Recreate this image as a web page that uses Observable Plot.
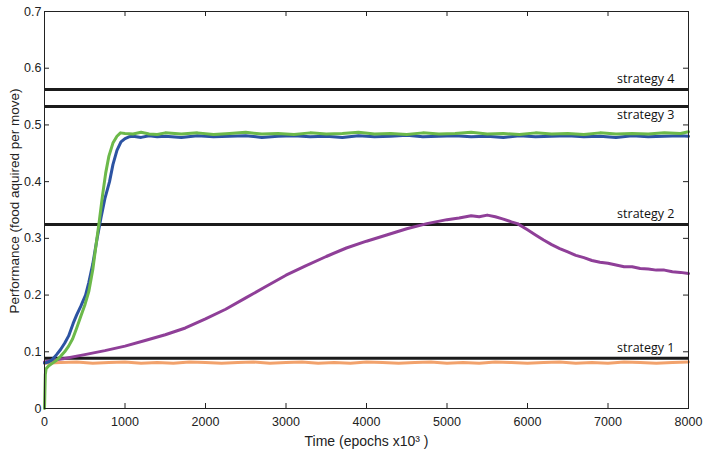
<!DOCTYPE html>
<html>
<head>
<meta charset="utf-8">
<script src="https://cdn.jsdelivr.net/npm/d3@7"></script>
<script src="https://cdn.jsdelivr.net/npm/@observablehq/plot@0.6"></script>
<style>
  html, body { margin: 0; padding: 0; background: #fff; }
  #chart { width: 708px; height: 452px; }
</style>
</head>
<body>
<div id="chart"></div>
<script>
// ---- data ----
const greenT = [0, 5, 10, 20, 50, 100, 150, 200, 250, 300, 350, 400, 450, 500, 550, 600, 640, 680, 720, 760, 800, 850, 900, 944, 1000, 1100, 1200, 1300, 1400, 1500, 1700, 1900, 2100, 2300, 2500, 2700, 2900, 3100, 3300, 3500, 3700, 3900, 4100, 4300, 4500, 4700, 4900, 5100, 5300, 5500, 5700, 5900, 6100, 6300, 6500, 6700, 6900, 7100, 7300, 7500, 7700, 7900, 8000];
const greenV = [0, 0.03, 0.06, 0.07, 0.075, 0.08, 0.085, 0.092, 0.1, 0.11, 0.123, 0.142, 0.162, 0.182, 0.206, 0.245, 0.288, 0.33, 0.375, 0.415, 0.445, 0.468, 0.48, 0.486, 0.485, 0.484, 0.487, 0.484, 0.483, 0.486, 0.484, 0.486, 0.483, 0.485, 0.487, 0.484, 0.485, 0.483, 0.486, 0.484, 0.485, 0.487, 0.484, 0.485, 0.483, 0.486, 0.484, 0.485, 0.487, 0.484, 0.485, 0.483, 0.486, 0.484, 0.485, 0.483, 0.486, 0.484, 0.485, 0.484, 0.486, 0.485, 0.488];

const blueT = [0, 50, 100, 150, 200, 250, 300, 356, 400, 450, 510, 550, 600, 654, 700, 750, 808, 850, 900, 950, 1000, 1050, 1100, 1200, 1300, 1400, 1500, 1700, 1900, 2100, 2300, 2500, 2700, 2900, 3100, 3300, 3500, 3700, 3900, 4100, 4300, 4500, 4700, 4900, 5100, 5300, 5500, 5700, 5900, 6100, 6300, 6500, 6700, 6900, 7100, 7300, 7500, 7700, 7900, 8000];
const blueV = [0.08, 0.082, 0.087, 0.095, 0.104, 0.115, 0.128, 0.15, 0.165, 0.18, 0.2, 0.222, 0.255, 0.3, 0.335, 0.37, 0.4, 0.43, 0.455, 0.47, 0.476, 0.479, 0.48, 0.478, 0.481, 0.479, 0.48, 0.478, 0.481, 0.479, 0.48, 0.481, 0.478, 0.48, 0.481, 0.479, 0.48, 0.478, 0.481, 0.479, 0.48, 0.482, 0.479, 0.48, 0.481, 0.479, 0.48, 0.478, 0.481, 0.479, 0.48, 0.481, 0.479, 0.48, 0.478, 0.481, 0.479, 0.48, 0.481, 0.48];

const purpleT = [0, 100, 250, 500, 750, 1000, 1250, 1500, 1750, 2000, 2250, 2500, 2750, 3000, 3250, 3500, 3750, 4000, 4250, 4500, 4750, 5000, 5150, 5300, 5400, 5500, 5600, 5700, 5800, 5875, 6000, 6100, 6200, 6300, 6400, 6500, 6600, 6700, 6800, 6900, 7000, 7100, 7200, 7300, 7400, 7500, 7600, 7700, 7800, 7900, 8000];
const purpleV = [0.082, 0.085, 0.088, 0.095, 0.102, 0.11, 0.12, 0.13, 0.142, 0.158, 0.175, 0.195, 0.215, 0.235, 0.252, 0.268, 0.283, 0.295, 0.306, 0.317, 0.326, 0.333, 0.336, 0.34, 0.338, 0.341, 0.338, 0.334, 0.329, 0.326, 0.315, 0.306, 0.297, 0.289, 0.282, 0.276, 0.27, 0.266, 0.261, 0.258, 0.256, 0.253, 0.25, 0.25, 0.247, 0.246, 0.244, 0.244, 0.241, 0.24, 0.238];

const orangeT = [0, 200, 400, 600, 800, 1000, 1200, 1400, 1600, 1800, 2000, 2200, 2400, 2600, 2800, 3000, 3200, 3400, 3600, 3800, 4000, 4200, 4400, 4600, 4800, 5000, 5200, 5400, 5600, 5800, 6000, 6200, 6400, 6600, 6800, 7000, 7200, 7400, 7600, 7800, 8000];
const orangeV = [0.08, 0.081, 0.082, 0.08, 0.081, 0.082, 0.08, 0.081, 0.08, 0.082, 0.081, 0.08, 0.081, 0.082, 0.08, 0.081, 0.082, 0.08, 0.081, 0.08, 0.082, 0.081, 0.08, 0.081, 0.082, 0.08, 0.081, 0.08, 0.082, 0.081, 0.08, 0.081, 0.082, 0.08, 0.081, 0.08, 0.082, 0.081, 0.08, 0.081, 0.082];

const strategyNames = ["strategy 1", "strategy 2", "strategy 3", "strategy 4"];
const strategyValues = [0.0887, 0.3245, 0.5325, 0.5625];
const strategyLabelBelow = [false, false, true, false];

const xTicks = [0, 1000, 2000, 3000, 4000, 5000, 6000, 7000, 8000];
const yTicks = [0, 0.1, 0.2, 0.3, 0.4, 0.5, 0.6, 0.7];

const series = [
  {name: "orange", t: orangeT, v: orangeV, color: "#f2a26c"},
  {name: "purple", t: purpleT, v: purpleV, color: "#8f3f98"},
  {name: "blue", t: blueT, v: blueV, color: "#2c53a2"},
  {name: "green", t: greenT, v: greenV, color: "#6cb94a"}
];

const strategies = strategyNames.map((n, i) => ({name: n, value: strategyValues[i], below: strategyLabelBelow[i]}));

const xTickLen = 8000 * 5 / 644;
const yTickLen = 0.7 * 5 / 397;
const axisFont = "Liberation Sans";

const lineMarks = series.map(s =>
  Plot.line(s.t.map((t, i) => ({t, v: s.v[i]})), {x: "t", y: "v", stroke: s.color, strokeWidth: 3, strokeLinejoin: "round"})
);

const chart = Plot.plot({
  width: 708,
  height: 452,
  marginLeft: 44,
  marginRight: 20,
  marginTop: 11,
  marginBottom: 44,
  style: {fontFamily: axisFont, fontSize: "12px", color: "#222", background: "#fff"},
  x: {domain: [0, 8000]},
  y: {domain: [0, 0.7]},
  marks: [
    Plot.ruleY(strategies, {y: "value", stroke: "#1b1b1b", strokeWidth: 3}),
    ...lineMarks,
    Plot.text(strategies.filter(d => !d.below), {x: 8000, y: "value", text: "name", textAnchor: "end", lineAnchor: "bottom", dx: -14, dy: -6, fontFamily: "Open Sans", fontSize: 12.5, fill: "#111"}),
    Plot.text(strategies.filter(d => d.below), {x: 8000, y: "value", text: "name", textAnchor: "end", lineAnchor: "top", dx: -14, dy: 4, fontFamily: "Open Sans", fontSize: 12.5, fill: "#111"}),
    Plot.frame({stroke: "#222", strokeWidth: 1}),
    Plot.ruleX(xTicks, {x: d => d, y1: 0, y2: yTickLen, stroke: "#222"}),
    Plot.ruleX(xTicks, {x: d => d, y1: 0.7 - yTickLen, y2: 0.7, stroke: "#222"}),
    Plot.ruleY(yTicks, {y: d => d, x1: 0, x2: xTickLen, stroke: "#222"}),
    Plot.ruleY(yTicks, {y: d => d, x1: 8000 - xTickLen, x2: 8000, stroke: "#222"}),
    Plot.axisX(xTicks, {tickSize: 0, tickPadding: 9, tickFormat: d => String(d), fontFamily: axisFont, fontSize: 12.5, label: null}),
    Plot.axisY(yTicks, {tickSize: 0, tickPadding: 3, tickFormat: d => d === 0 ? "0" : d.toFixed(1), fontFamily: axisFont, fontSize: 12.5, label: null}),
    Plot.text(["Time (epochs x10³ )"], {frameAnchor: "bottom", dy: 37, text: d => d, fontFamily: axisFont, fontSize: 14, fill: "#222"}),
    Plot.text(["Performance (food aquired per move)"], {frameAnchor: "left", textAnchor: "middle", dx: -30, dy: -9, rotate: -90, text: d => d, fontFamily: axisFont, fontSize: 13.5, fill: "#222"})
  ]
});
document.getElementById("chart").appendChild(chart);
</script>
</body>
</html>
